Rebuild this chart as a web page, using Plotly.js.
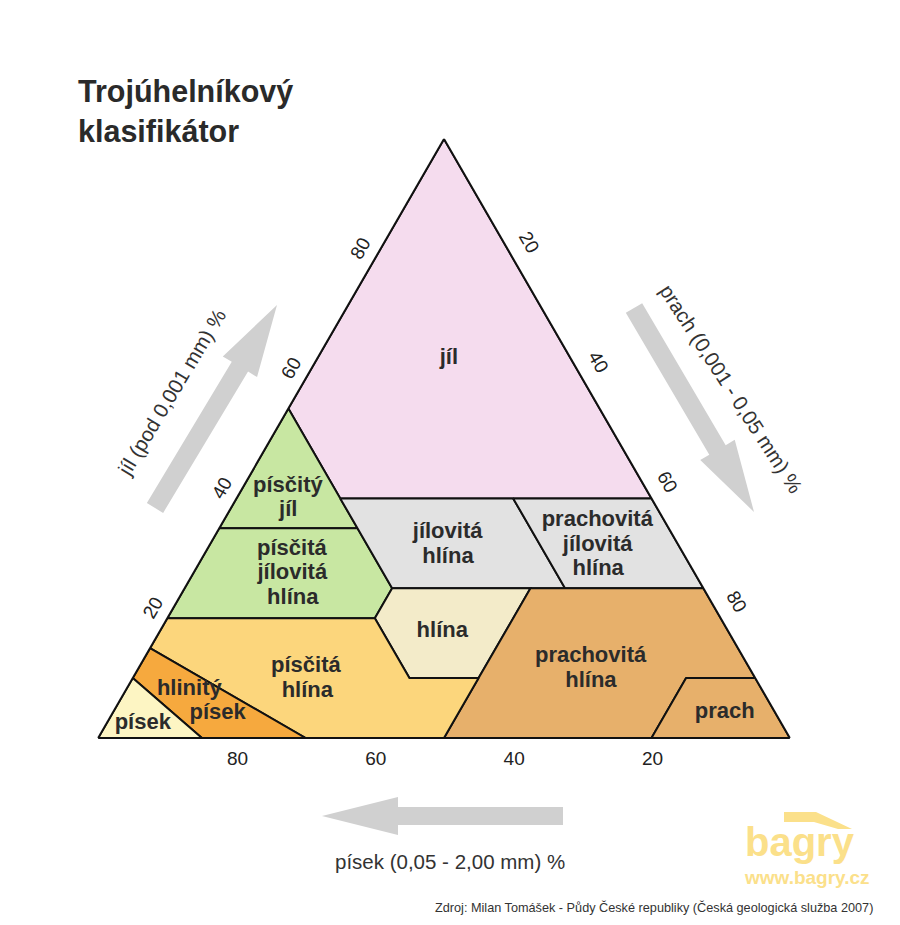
<!DOCTYPE html>
<html>
<head>
<meta charset="utf-8">
<script src="https://cdn.plot.ly/plotly-3.0.1.min.js"></script>
<style>html,body{margin:0;padding:0;background:#fff;}</style>
</head>
<body>
<div id="chart" style="width:900px;height:925px;"></div>
<script>
// ---------- DATA (a = jíl, b = písek, c = prach; percent) ----------
const regionNames = ['jíl','písčitý jíl','písčitá jílovitá hlína','jílovitá hlína',
  'prachovitá jílovitá hlína','hlína','prachovitá hlína','prach','písčitá hlína',
  'hlinitý písek','písek'];
const regionJil = [
  [100,55,40,40,100],
  [55,35,35,55],
  [35,20,20,25,35,35],
  [40,25,25,40,40],
  [40,25,25,40,40],
  [25,20,10,10,25,25],
  [25,10,0,0,10,10,25,25],
  [10,0,0,10,10],
  [20,15,0,0,10,10,20,20],
  [15,10,0,0,15],
  [10,0,0,10]
];
const regionPisek = [
  [0,45,45,0,0],
  [45,65,45,45],
  [65,80,50,45,45,65],
  [45,45,20,20,45],
  [20,20,0,0,20],
  [45,50,50,40,25,45],
  [25,40,50,20,10,0,0,25],
  [10,20,0,0,10],
  [80,85,70,50,40,50,50,80],
  [85,90,85,70,85],
  [90,100,85,90]
];
const regionPrach = [
  [0,0,15,60,0],
  [0,0,20,0],
  [0,0,30,30,20,0],
  [15,30,55,40,15],
  [40,55,75,60,40],
  [30,30,40,50,50,30],
  [50,50,50,80,80,90,75,50],
  [80,80,100,90,80],
  [0,0,30,50,50,40,30,0],
  [0,0,15,30,0],
  [0,0,15,0]
];
const regionColors = ['#f5dcee','#c8e7a2','#c8e7a2','#e2e2e2','#e2e2e2','#f3ebc9',
  '#e7b06b','#e7b06b','#fcd67c','#f6a93e','#fdf5c3'];

// label lines placed at ternary coordinates
const labelText = ['jíl','písčitý','jíl','písčitá','jílovitá','hlína','jílovitá','hlína',
  'prachovitá','jílovitá','hlína','hlína','prachovitá','hlína','prach','písčitá','hlína',
  'hlinitý','písek','písek'];
const labelJil   = [63.4,42.07,37.90,31.55,27.38,23.21,34.31,30.13,36.39,32.22,28.05,17.7,13.61,9.43,4.2,11.94,7.76,8.18,4.01,2.5];
const labelPisek = [17.6,51.54,53.56,56.21,58.24,60.26,32.32,34.36,9.64,11.67,13.69,41.4,22.0,24.04,7.3,64.0,65.88,82.73,80.72,92.3];
const labelPrach = [19.0,6.39,8.54,12.24,14.38,16.53,33.37,35.51,53.97,56.11,58.26,40.9,64.39,66.53,88.5,24.06,26.36,9.09,15.27,5.2];

const tickValues = [20,40,60,80];
const tickLabels = ['20','40','60','80'];

const titleText = 'Trojúhelníkový<br>klasifikátor';
const jilTitle = 'jíl (pod 0,001 mm) %';
const prachTitle = 'prach (0,001 - 0,05 mm) %';
const pisekTitle = 'písek (0,05 - 2,00 mm) %';
const sourceText = 'Zdroj: Milan Tomášek - Půdy České republiky (Česká geologická služba 2007)';

// ---------- CHART ----------
const W = 900, H = 925;
const FONT = 'Liberation Sans, Arial, Helvetica, sans-serif';
const px = x => x / W;
const py = y => 1 - y / H;

const traces = regionNames.map((name, i) => ({
  type: 'scatterternary',
  mode: 'lines',
  name: name,
  a: regionJil[i], b: regionPisek[i], c: regionPrach[i],
  fill: 'toself',
  fillcolor: regionColors[i],
  line: {color: '#111', width: 2},
  hoverinfo: 'skip',
  showlegend: false
}));

traces.push({
  type: 'scatterternary',
  mode: 'text',
  a: labelJil, b: labelPisek, c: labelPrach,
  text: labelText.map(t => '<b>' + t + '</b>'),
  textposition: 'middle center',
  textfont: {family: FONT, size: 22, color: '#2b2b2b'},
  cliponaxis: false,
  hoverinfo: 'skip',
  showlegend: false
});

function arrowPath(tail, tip, sw, hw, hl) {
  const dx = tip[0] - tail[0], dy = tip[1] - tail[1];
  const L = Math.hypot(dx, dy), ux = dx / L, uy = dy / L, nx = -uy, ny = ux;
  const bx = tip[0] - ux * hl, by = tip[1] - uy * hl;
  const pts = [
    [tail[0] + nx * sw / 2, tail[1] + ny * sw / 2],
    [bx + nx * sw / 2, by + ny * sw / 2],
    [bx + nx * hw / 2, by + ny * hw / 2],
    [tip[0], tip[1]],
    [bx - nx * hw / 2, by - ny * hw / 2],
    [bx - nx * sw / 2, by - ny * sw / 2],
    [tail[0] - nx * sw / 2, tail[1] - ny * sw / 2]
  ];
  return 'M' + pts.map(p => px(p[0]).toFixed(5) + ',' + py(p[1]).toFixed(5)).join(' L') + ' Z';
}

const arrowStyle = {type: 'path', xref: 'paper', yref: 'paper', fillcolor: '#d0d0d0', line: {width: 0}, layer: 'below'};
const shapes = [
  Object.assign({path: arrowPath([155, 508], [277, 305], 19, 40, 72)}, arrowStyle),
  Object.assign({path: arrowPath([634, 308], [754, 512], 19, 40, 72)}, arrowStyle),
  Object.assign({path: arrowPath([563, 816], [322, 816], 18, 38, 76)}, arrowStyle),
  // logo roof
  {type: 'path', xref: 'paper', yref: 'paper', fillcolor: '#fbe08a', line: {width: 0},
   path: 'M' + [[784,812],[816,812],[852,829],[838,829],[814,822],[784,822]].map(p => px(p[0]).toFixed(5) + ',' + py(p[1]).toFixed(5)).join(' L') + ' Z'}
];

const axisCommon = {
  min: 0,
  linecolor: '#111', linewidth: 2,
  showgrid: false,
  tickmode: 'array', tickvals: tickValues, ticktext: tickLabels,
  ticks: 'outside', tickcolor: 'rgba(0,0,0,0)',
  tickfont: {family: FONT, size: 19, color: '#222'},
  title: {text: ''}
};

const layout = {
  width: W, height: H,
  margin: {l: 0, r: 0, t: 0, b: 0},
  paper_bgcolor: '#fff',
  showlegend: false,
  title: {
    text: '<b>' + titleText + '</b>',
    x: 78 / W, xanchor: 'left', xref: 'paper',
    y: 1 - 102 / H, yanchor: 'top', yref: 'container',
    font: {family: FONT, size: 30.5, color: '#2a2a2a'}
  },
  ternary: {
    sum: 100,
    domain: {x: [98 / W, 790 / W], y: [(H - 738) / H, (H - 139) / H]},
    bgcolor: '#fff',
    aaxis: Object.assign({}, axisCommon, {tickangle: -60, ticklen: 2}),
    baxis: Object.assign({}, axisCommon, {tickangle: 0, ticklen: 2}),
    caxis: Object.assign({}, axisCommon, {tickangle: 60, ticklen: 7})
  },
  shapes: shapes,
  annotations: [
    {text: jilTitle, xref: 'paper', yref: 'paper', x: px(171), y: py(392), xanchor: 'center', yanchor: 'middle',
     textangle: -59, showarrow: false, font: {family: FONT, size: 20.5, color: '#333'}},
    {text: prachTitle, xref: 'paper', yref: 'paper', x: px(731), y: py(389), xanchor: 'center', yanchor: 'middle',
     textangle: 57, showarrow: false, font: {family: FONT, size: 20.5, color: '#333'}},
    {text: pisekTitle, xref: 'paper', yref: 'paper', x: px(450), y: py(861), xanchor: 'center', yanchor: 'middle',
     showarrow: false, font: {family: FONT, size: 20.5, color: '#333'}},
    {text: '<b>bagry</b>', xref: 'paper', yref: 'paper', x: px(800), y: py(842), xanchor: 'center', yanchor: 'middle',
     showarrow: false, font: {family: FONT, size: 40, color: '#fbe08a'}},
    {text: '<b>www.bagry.cz</b>', xref: 'paper', yref: 'paper', x: px(807), y: py(877), xanchor: 'center', yanchor: 'middle',
     showarrow: false, font: {family: FONT, size: 19, color: '#fbe08a'}},
    {text: sourceText, xref: 'paper', yref: 'paper', x: px(875), y: py(907), xanchor: 'right', yanchor: 'middle',
     showarrow: false, font: {family: FONT, size: 12.7, color: '#333'}}
  ]
};

Plotly.newPlot('chart', traces, layout, {staticPlot: true, displayModeBar: false});
</script>
</body>
</html>
